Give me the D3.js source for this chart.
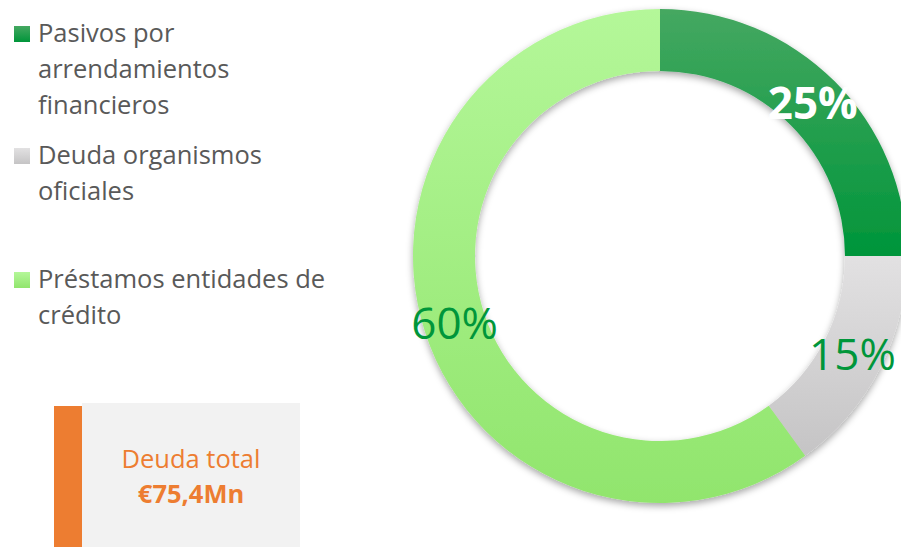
<!DOCTYPE html>
<html>
<head>
<meta charset="utf-8">
<script src="https://cdn.jsdelivr.net/npm/d3@7"></script>
<style>
  body { margin: 0; background: #fff; }
  svg { display: block; font-family: "Open Sans", Lato, sans-serif; }
</style>
</head>
<body>
<svg id="place" width="901" height="547"></svg>
<script>
var categories = ["Pasivos por arrendamientos financieros", "Deuda organismos oficiales", "Préstamos entidades de crédito"];
var legendLines = [["Pasivos por", "arrendamientos", "financieros"], ["Deuda organismos", "oficiales"], ["Préstamos entidades de", "crédito"]];
var values = [25, 15, 60];
var labels = ["25%", "15%", "60%"];
var totalTitle = "Deuda total";
var totalValue = "€75,4Mn";

var gradTop = ["#45a861", "#e2e1e2", "#b4f799"];
var gradBottom = ["#00953a", "#c5c4c5", "#91e56d"];
var labelColor = ["#ffffff", "#00963a", "#00963a"];
var labelWeight = ["bold", "normal", "normal"];

var svg = d3.select("#place");
var defs = svg.append("defs");

var shadow = defs.append("filter")
    .attr("id", "shadow")
    .attr("x", "-10%").attr("y", "-10%")
    .attr("width", "120%").attr("height", "120%");
shadow.append("feDropShadow")
    .attr("dx", 0).attr("dy", 3)
    .attr("stdDeviation", 3.5)
    .attr("flood-color", "#000")
    .attr("flood-opacity", 0.35);

values.forEach(function(v, i) {
    var g = defs.append("linearGradient")
	.attr("id", "grad" + i)
	.attr("x1", 0).attr("y1", 0).attr("x2", 0).attr("y2", 1);
    g.append("stop").attr("offset", "0%").attr("stop-color", gradTop[i]);
    g.append("stop").attr("offset", "100%").attr("stop-color", gradBottom[i]);
});

// donut
var cx = 660, cy = 256, outer = 247, inner = 185;
var pie = d3.pie().sort(null).value(function(d) { return d; });
var arc = d3.arc().innerRadius(inner).outerRadius(outer);
var labelArc = d3.arc().innerRadius(216).outerRadius(216);
var arcs = pie(values);

var ring = svg.append("g")
    .attr("transform", "translate(" + cx + "," + cy + ")");

ring.append("g")
    .attr("filter", "url(#shadow)")
    .selectAll("path")
    .data(arcs)
    .enter()
    .append("path")
    .attr("d", arc)
    .attr("fill", function(d, i) { return "url(#grad" + i + ")"; });

ring.selectAll("text.pct")
    .data(arcs)
    .enter()
    .append("text")
    .attr("class", "pct")
    .attr("transform", function(d) { return "translate(" + labelArc.centroid(d) + ")"; })
    .attr("dy", "0.36em")
    .style("text-anchor", "middle")
    .style("font-size", "44px")
    .style("font-weight", function(d, i) { return labelWeight[i]; })
    .style("fill", function(d, i) { return labelColor[i]; })
    .text(function(d, i) { return labels[i]; });

// legend
var legendTop = [26, 148, 272];
var legend = svg.append("g");
categories.forEach(function(c, i) {
    var item = legend.append("g")
	.attr("transform", "translate(14," + legendTop[i] + ")");
    item.append("rect")
	.attr("width", 16).attr("height", 16)
	.attr("fill", "url(#grad" + i + ")");
    var t = item.append("text")
	.attr("x", 24)
	.attr("y", 16)
	.style("font-size", "25.5px")
	.style("fill", "#595959");
    legendLines[i].forEach(function(line, j) {
	t.append("tspan")
	    .attr("x", 24)
	    .attr("dy", j === 0 ? 0 : 36)
	    .text(line);
    });
});

// total box
var box = svg.append("g");
box.append("rect")
    .attr("x", 82).attr("y", 403)
    .attr("width", 218).attr("height", 144)
    .attr("fill", "#f2f2f2");
box.append("rect")
    .attr("x", 54).attr("y", 406)
    .attr("width", 28).attr("height", 141)
    .attr("fill", "#ed7d31");
box.append("text")
    .attr("x", 191).attr("y", 468)
    .style("text-anchor", "middle")
    .style("font-size", "25.5px")
    .style("fill", "#ed7d31")
    .text(totalTitle);
box.append("text")
    .attr("x", 191).attr("y", 503)
    .style("text-anchor", "middle")
    .style("font-size", "25.5px")
    .style("font-weight", "bold")
    .style("fill", "#ed7d31")
    .text(totalValue);
</script>
</body>
</html>
